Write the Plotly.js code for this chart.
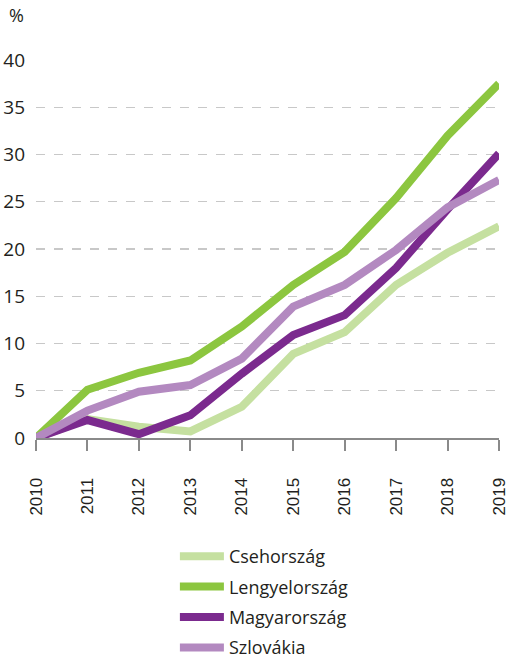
<!DOCTYPE html>
<html>
<head>
<meta charset="utf-8">
<script src="https://cdn.plot.ly/plotly-3.0.1.min.js"></script>
<style>html,body{margin:0;padding:0;background:#fff;}#chart{width:506px;height:658px;}</style>
</head>
<body>
<div id="chart"></div>
<script>
const years = [2010, 2011, 2012, 2013, 2014, 2015, 2016, 2017, 2018, 2019];
const seriesNames = ["Csehország", "Lengyelország", "Magyarország", "Szlovákia"];
const cseh = [0, 2.0, 1.2, 0.7, 3.3, 8.9, 11.2, 16.2, 19.6, 22.4];
const lengyel = [0, 5.1, 6.9, 8.2, 11.8, 16.2, 19.7, 25.4, 32.0, 37.5];
const magyar = [0, 1.9, 0.4, 2.4, 6.8, 10.9, 13.0, 18.0, 24.2, 30.1];
const szlovakia = [0, 2.9, 4.9, 5.6, 8.4, 13.9, 16.2, 19.9, 24.4, 27.3];
const yTicks = [0, 5, 10, 15, 20, 25, 30, 35, 40];
const colors = ["#c5e0a0", "#8cc63f", "#7b2a8e", "#b389c0"];
const values = [cseh, lengyel, magyar, szlovakia];

const traces = values.map((v, i) => ({
  x: years, y: v, name: seriesNames[i], type: "scatter", mode: "lines",
  legendgroup: "g" + i,
  line: {color: colors[i], width: 8, shape: "linear"},
  cliponaxis: false
}));

const layout = {
  width: 506, height: 658,
  margin: {l: 36, r: 7, t: 60, b: 220, autoexpand: false},
  paper_bgcolor: "#fff", plot_bgcolor: "#fff",
  showlegend: true,
  legend: {
    x: 0.30, xanchor: "left", y: -0.2645, yanchor: "top",
    font: {family: "Open Sans, Noto Sans, sans-serif", size: 18, color: "#231f20"},
    traceorder: "grouped", itemwidth: 44, tracegroupgap: 4
  },
  xaxis: {
    range: [2010, 2019], tickvals: years, ticktext: years.map(String),
    tickangle: -90, ticks: "outside", ticklen: 11, tickwidth: 2, tickcolor: "#8a8a8a",
    showline: true, linecolor: "#8a8a8a", linewidth: 2,
    showgrid: false, zeroline: false, ticklabelstandoff: 20,
    ticklabeloverflow: "allow", automargin: false,
    tickfont: {family: "Liberation Sans, Arial, sans-serif", size: 17, color: "#231f20"}
  },
  yaxis: {
    range: [0, 40], tickvals: yTicks, ticktext: yTicks.map(String),
    showgrid: true, gridcolor: "#c8c8c8", gridwidth: 1.2, griddash: "dash",
    zeroline: false, showline: false, ticks: "", ticklabelstandoff: 10, automargin: false,
    tickfont: {family: "Open Sans, Noto Sans, sans-serif", size: 19, color: "#231f20"}
  },
  annotations: [{
    text: "%", xref: "paper", yref: "paper", x: -0.063, y: 1.12, xanchor: "left", yanchor: "middle",
    showarrow: false, font: {family: "Open Sans, Noto Sans, sans-serif", size: 18, color: "#231f20"}
  }]
};

Plotly.newPlot("chart", traces, layout, {displayModeBar: false, staticPlot: true});
</script>
</body>
</html>
